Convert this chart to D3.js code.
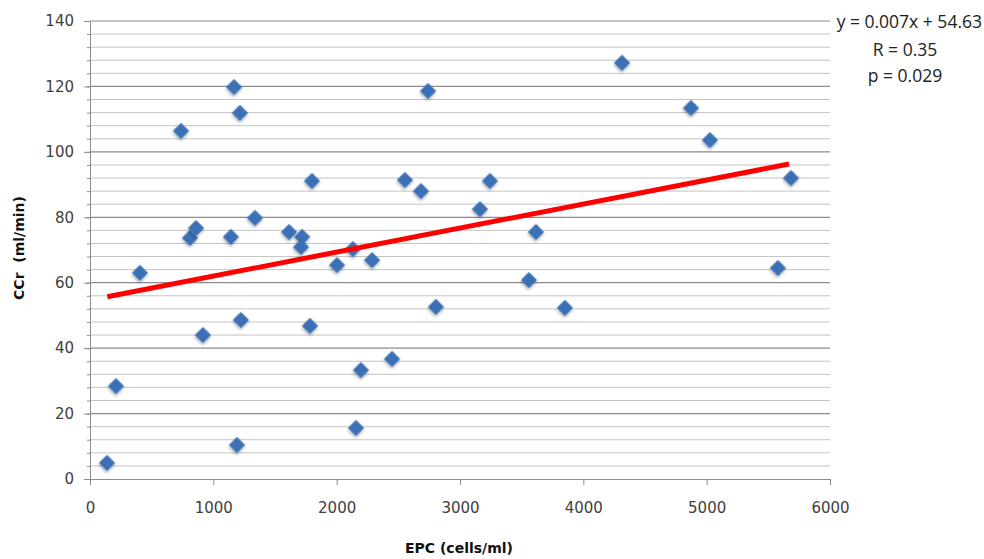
<!DOCTYPE html>
<html>
<head>
<meta charset="utf-8">
<script src="https://cdn.jsdelivr.net/npm/d3@7"></script>
<style>
  body { margin: 0; background: #fff; }
</style>
</head>
<body>
<script>
// EPC vs CCr
const epc = [138, 211, 405, 738, 811, 860, 916, 1143, 1168, 1216, 1192, 1224, 1338,
  1614, 1720, 1711, 1800, 1784, 2003, 2132, 2157, 2197, 2287, 2449, 2554, 2684,
  2741, 2805, 3162, 3243, 3559, 3616, 3851, 4314, 4873, 5027, 5578, 5684];
const ccr = [4.9, 28.4, 63, 106.4, 73.7, 76.7, 44, 74, 119.8, 111.9, 10.4, 48.6, 79.8,
  75.5, 74, 70.9, 91.1, 46.8, 65.4, 70.3, 15.6, 33.3, 66.9, 36.7, 91.4, 88,
  118.6, 52.6, 82.5, 91.1, 60.8, 75.5, 52.3, 127.2, 113.4, 103.6, 64.5, 92];

// trend line ends (as drawn)
const fitX = [140, 5668];
const fitY = [55.7, 96.3];

const xTicks = [0, 1000, 2000, 3000, 4000, 5000, 6000];
const yTicks = [0, 20, 40, 60, 80, 100, 120, 140];
const yMinor = d3.range(0, 141, 4);
const statsText = ["y = 0.007x + 54.63", "R = 0.35", "p = 0.029"];

const W = 984, H = 559;
const mLeft = 90, mRight = 830, mTop = 21, mBottom = 479;

const svg = d3.select("body").append("svg")
  .attr("width", W)
  .attr("height", H);

const x = d3.scaleLinear().domain([0, 6000]).range([mLeft, mRight]);
const y = d3.scaleLinear().domain([0, 140]).range([mBottom, mTop]);

// minor grid
svg.append("g").selectAll("line")
  .data(yMinor.filter(v => v % 20 !== 0))
  .join("line")
  .attr("x1", mLeft).attr("x2", mRight)
  .attr("y1", d => y(d)).attr("y2", d => y(d))
  .attr("stroke", "#c4c4c4")
  .attr("stroke-width", 1);

// major grid
svg.append("g").selectAll("line")
  .data(yTicks.filter(v => v > 0))
  .join("line")
  .attr("x1", mLeft).attr("x2", mRight)
  .attr("y1", d => y(d)).attr("y2", d => y(d))
  .attr("stroke", "#8c8c8c")
  .attr("stroke-width", 1.2);

// y axis with minor ticks
svg.append("g")
  .attr("transform", `translate(${mLeft},0)`)
  .call(d3.axisLeft(y).tickValues(yMinor).tickSize(3).tickFormat(""))
  .call(g => g.select(".domain").remove())
  .call(g => g.selectAll("line").attr("stroke", "#8c8c8c"));

const yAxis = svg.append("g")
  .attr("transform", `translate(${mLeft},0)`)
  .call(d3.axisLeft(y).tickValues(yTicks).tickSize(6).tickPadding(10).tickSizeOuter(0));
yAxis.select(".domain").attr("stroke", "#8c8c8c");
yAxis.selectAll("line").attr("stroke", "#8c8c8c");
yAxis.selectAll("text")
  .attr("font-family", "DejaVu Sans")
  .attr("font-size", 15)
  .attr("fill", "#404040");

const xAxis = svg.append("g")
  .attr("transform", `translate(0,${mBottom})`)
  .call(d3.axisBottom(x).tickValues(xTicks).tickFormat(d3.format("d"))
    .tickSize(6).tickPadding(17).tickSizeOuter(0));
xAxis.select(".domain").attr("stroke", "#8c8c8c").attr("stroke-width", 1.2);
xAxis.selectAll("line").attr("stroke", "#8c8c8c");
xAxis.selectAll("text")
  .attr("font-family", "DejaVu Sans")
  .attr("font-size", 15)
  .attr("fill", "#404040");

// points
const defs = svg.append("defs");
const f = defs.append("filter").attr("id", "sh").attr("x", "-50%").attr("y", "-50%")
  .attr("width", "200%").attr("height", "200%");
f.append("feDropShadow").attr("dx", 1).attr("dy", 1.5).attr("stdDeviation", 1.5)
  .attr("flood-color", "#000").attr("flood-opacity", 0.35);

const diamond = d3.symbol(d3.symbolSquare, 130);
svg.append("g").selectAll("path")
  .data(epc.map((v, i) => [v, ccr[i]]))
  .join("path")
  .attr("d", diamond)
  .attr("transform", d => `translate(${x(d[0])},${y(d[1])}) rotate(45)`)
  .attr("fill", "#3a6fb5")
  .attr("filter", "url(#sh)");

// trend line
svg.append("line")
  .attr("x1", x(fitX[0])).attr("y1", y(fitY[0]))
  .attr("x2", x(fitX[1])).attr("y2", y(fitY[1]))
  .attr("stroke", "#ff0000")
  .attr("stroke-width", 5);

// stats text
svg.append("text")
  .attr("x", 982).attr("y", 28)
  .attr("text-anchor", "end")
  .attr("font-family", "Open Sans")
  .attr("font-size", 17.5)
  .attr("fill", "#222")
  .text(statsText[0]);
svg.append("text")
  .attr("x", 905).attr("y", 56)
  .attr("text-anchor", "middle")
  .attr("font-family", "Open Sans")
  .attr("font-size", 17.5)
  .attr("fill", "#222")
  .text(statsText[1]);
svg.append("text")
  .attr("x", 905).attr("y", 82)
  .attr("text-anchor", "middle")
  .attr("font-family", "Open Sans")
  .attr("font-size", 17.5)
  .attr("fill", "#222")
  .text(statsText[2]);

// axis titles
svg.append("text")
  .attr("x", 459).attr("y", 553)
  .attr("text-anchor", "middle")
  .attr("font-family", "DejaVu Sans")
  .attr("font-weight", "bold")
  .attr("font-size", 14)
  .attr("fill", "#111")
  .text("EPC (cells/ml)");

svg.append("text")
  .attr("transform", "translate(24,248) rotate(-90)")
  .attr("text-anchor", "middle")
  .attr("font-family", "DejaVu Sans")
  .attr("font-weight", "bold")
  .attr("font-size", 14)
  .attr("fill", "#111")
  .style("white-space", "pre")
  .text("CCr  (ml/min)");
</script>
</body>
</html>
